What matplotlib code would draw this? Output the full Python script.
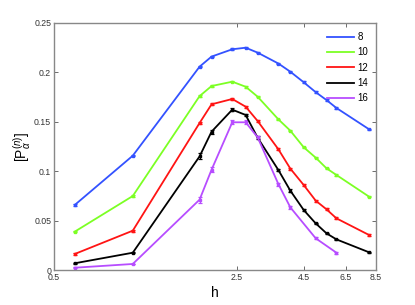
import matplotlib
matplotlib.use("Agg")
import matplotlib.pyplot as plt
from matplotlib.ticker import FixedLocator, NullLocator, FixedFormatter

plt.rcParams['font.family'] = ['Liberation Sans', 'DejaVu Sans']
plt.rcParams['mathtext.fontset'] = 'custom'
plt.rcParams['mathtext.rm'] = 'Liberation Sans'
plt.rcParams['mathtext.it'] = 'Liberation Sans:italic'

h_full = [0.6, 1.0, 1.8, 2.0, 2.4, 2.7, 3.0, 3.6, 4.0, 4.5, 5.0, 5.5, 6.0, 8.0]
h_16 = [0.6, 1.0, 1.8, 2.0, 2.4, 2.7, 3.0, 3.6, 4.0, 5.0, 6.0]

p_8 = [0.0658, 0.1157, 0.2058, 0.2160, 0.2234, 0.2250, 0.2200, 0.2090, 0.2007, 0.1900, 0.1800, 0.1720, 0.1640, 0.1424]
p_10 = [0.0388, 0.0749, 0.1760, 0.1862, 0.1906, 0.1855, 0.1754, 0.1525, 0.1410, 0.1242, 0.1137, 0.1029, 0.0962, 0.0742]
p_12 = [0.0162, 0.0398, 0.1488, 0.1677, 0.1731, 0.1653, 0.1508, 0.1222, 0.1026, 0.0860, 0.0702, 0.0614, 0.0523, 0.0354]
p_14 = [0.0068, 0.0175, 0.1150, 0.1400, 0.1623, 0.1569, 0.1339, 0.1012, 0.0803, 0.0607, 0.0472, 0.0371, 0.0310, 0.0179]
p_16 = [0.0023, 0.0061, 0.0712, 0.1015, 0.1495, 0.1495, 0.1343, 0.0870, 0.0634, 0.0321, 0.0175]

e_8 = [0.0008] * 14
e_10 = [0.0008] * 14
e_12 = [0.0010] * 14
e_14 = [0.0005, 0.0005, 0.0030, 0.0020, 0.0015, 0.0015, 0.0015, 0.0012, 0.0012, 0.0010, 0.0008, 0.0006, 0.0006, 0.0005]
e_16 = [0.0004, 0.0004, 0.0030, 0.0025, 0.0020, 0.0020, 0.0015, 0.0015, 0.0012, 0.0010, 0.0008]

labels = ['8', '10', '12', '14', '16']
colors = ['#3352ff', '#7cff24', '#ff1414', '#000000', '#b74dff']

x_ticks = [0.5, 2.5, 4.5, 6.5, 8.5]
x_ticklabels = ['0.5', '2.5', '4.5', '6.5', '8.5']
y_ticks = [0, 0.05, 0.1, 0.15, 0.2, 0.25]
y_ticklabels = ['0', '0.05', '0.1', '0.15', '0.2', '0.25']

fig = plt.figure(figsize=(4.15, 3.05), dpi=100)
ax = fig.add_axes([54/415, 35/305, 322/415, 247/305])

series = [(h_full, p_8, e_8), (h_full, p_10, e_10), (h_full, p_12, e_12),
          (h_full, p_14, e_14), (h_16, p_16, e_16)]
handles = []
for (hx, py, ey), lab, c in zip(series, labels, colors):
    ax.errorbar(hx, py, yerr=ey, color=c, lw=1.3, marker='s', ms=2.0,
                capsize=1.5, elinewidth=0.9, capthick=0.9)
    ln, = ax.plot([], [], color=c, lw=1.3, label=lab)
    handles.append(ln)

ax.set_xscale('log')
ax.set_xlim(0.5, 8.5)
ax.set_ylim(0, 0.25)
ax.xaxis.set_major_locator(FixedLocator(x_ticks))
ax.xaxis.set_major_formatter(FixedFormatter(x_ticklabels))
ax.xaxis.set_minor_locator(NullLocator())
ax.set_yticks(y_ticks)
ax.set_yticklabels(y_ticklabels)

for s in ax.spines.values():
    s.set_color('#888888')
    s.set_linewidth(1.0)
ax.tick_params(direction='in', length=3, width=0.6, color='#555555',
               labelsize=6.3, top=True, right=True, pad=2, labelcolor='#333333')

ax.set_xlabel('h', fontsize=10, labelpad=3)
ax.set_ylabel(r'$[\mathrm{P}_{\alpha}^{(n)}]$', fontsize=10, labelpad=1)

ax.legend(handles=handles, loc='upper right', frameon=False, fontsize=7,
          handlelength=2.8, labelspacing=0.55, borderaxespad=0.4,
          handletextpad=0.3, bbox_to_anchor=(1.0, 0.995))

fig.savefig('out.png', dpi=100)
